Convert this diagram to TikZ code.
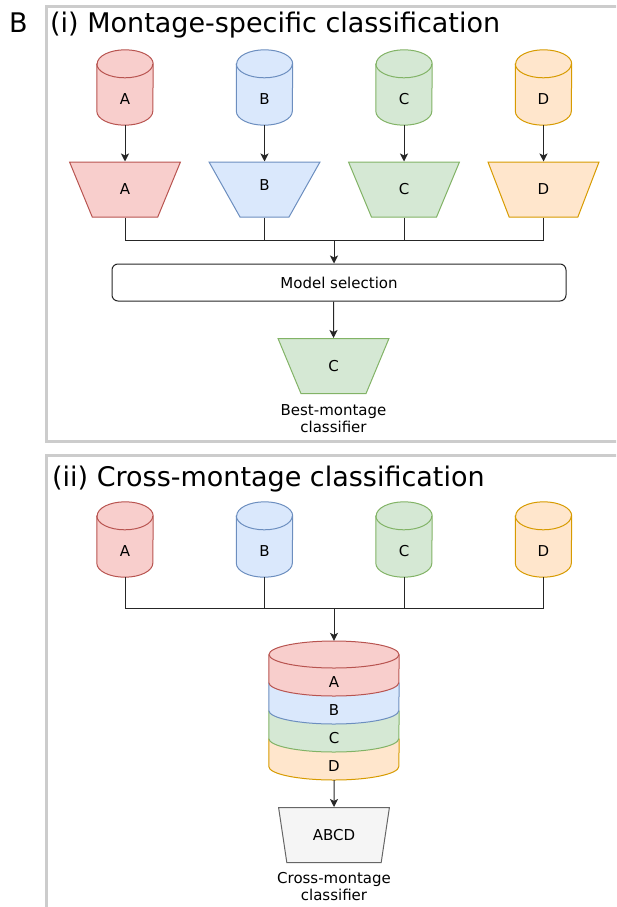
\documentclass[tikz,border=0pt]{standalone}
\usepackage{fontspec}
\setmainfont{DejaVu Sans}
\usetikzlibrary{calc,positioning,shapes.geometric,arrows.meta,backgrounds}
\definecolor{RedFill}{HTML}{F8CECC}
\definecolor{RedLine}{HTML}{B85450}
\definecolor{BlueFill}{HTML}{DAE8FC}
\definecolor{BlueLine}{HTML}{6C8EBF}
\definecolor{GreenFill}{HTML}{D5E8D4}
\definecolor{GreenLine}{HTML}{82B366}
\definecolor{OrangeFill}{HTML}{FFE6CC}
\definecolor{OrangeLine}{HTML}{D79B00}
\definecolor{GreyFill}{HTML}{F5F5F5}
\definecolor{GreyLine}{HTML}{666666}
\definecolor{FrameGrey}{HTML}{CCCCCC}
\newcommand{\DrumRx}{28pt}
\newcommand{\DrumRy}{14pt}
\newcommand{\Drum}[2]{%
\filldraw[fill=#2Fill,draw=#2Line,line width=1pt] %
($(#1.north west)+(0,-14)$) -- ($(#1.south west)+(0,14)$) %
  arc[start angle=180,end angle=360,x radius=\DrumRx,y radius=\DrumRy] -- %
($(#1.north east)+(0,-14)$) %
  arc[start angle=0,end angle=180,x radius=\DrumRx,y radius=\DrumRy] -- cycle; %
\draw[#2Line,line width=1pt] ($(#1.north west)+(0,-14)$) %
  arc[start angle=180,end angle=360,x radius=\DrumRx,y radius=\DrumRy]; %
}
\newcommand{\SlabRx}{65pt}
\newcommand{\SlabRy}{13.5pt}
\newcommand{\Slab}[2]{%
\fill[#2Fill] ($(#1.west)+(0,28)$) -- (#1.west) %
  arc[start angle=180,end angle=360,x radius=\SlabRx,y radius=\SlabRy] -- %
($(#1.east)+(0,28)$) -- cycle; %
\draw[#2Line,line width=1pt] ($(#1.west)+(0,28)$) -- (#1.west) %
  arc[start angle=180,end angle=360,x radius=\SlabRx,y radius=\SlabRy] -- %
($(#1.east)+(0,28)$); %
}

\begin{document}
\begin{tikzpicture}[x=1pt,y=1pt,>={Stealth[length=8pt,width=8pt,inset=2pt]},
    every node/.style={font=\fontsize{15}{17}\selectfont},
    heading/.style={font=\fontsize{27}{31}\selectfont,anchor=base west,inner sep=0pt},
    drum/.style={minimum width=56pt,minimum height=75pt,inner sep=0pt,text height=34pt,text depth=0pt},
    filt/.style={trapezium,trapezium left angle=108,trapezium right angle=108,trapezium stretches=true,
      minimum width=111pt,minimum height=55pt,inner sep=0pt,line width=1pt},
    slab/.style={minimum width=130pt,minimum height=28pt,inner sep=0pt},
    caption/.style={align=center,inner sep=0pt},
    wire/.style={draw=black!85,line width=1pt}]
  \useasboundingbox (0,0) rectangle (616,-907);
  \clip (0,0) rectangle (616,-907);
  \draw[FrameGrey,line width=3pt] (46.5,-7) rectangle (650,-441.5);
  \draw[FrameGrey,line width=3pt] (46.5,-455) rectangle (650,-950);
  \node[heading] (panel) at (9,-33) {B};
  \node[heading] (ttlI) at (50,-33) {(i) Montage-specific classification};
  \node[heading] (ttlII) at (52,-486) {(ii) Cross-montage classification};

  \node[drum] (cA) at (125,-87.5) {A};
  \node[drum] (cB) at (264.5,-87.5) {B};
  \node[drum] (cC) at (404,-87.5) {C};
  \node[drum] (cD) at (543.5,-87.5) {D};
  \node[filt,fill=RedFill,draw=RedLine] (tA) at (125,-189.5) {A};
  \node[filt,fill=BlueFill,draw=BlueLine,text height=11pt,text depth=9pt] (tB) at (264.5,-189.5) {B};
  \node[filt,fill=GreenFill,draw=GreenLine] (tC) at (404,-189.5) {C};
  \node[filt,fill=OrangeFill,draw=OrangeLine] (tD) at (543.5,-189.5) {D};
  \coordinate (mj) at (334,-240);
  \node[draw=black!85,line width=1pt,rounded corners=6pt,minimum width=454pt,minimum height=37pt] (ms) at (339,-282.5) {Model selection};
  \node[filt,fill=GreenFill,draw=GreenLine] (tBest) at (333.5,-366) {C};
  \node[caption,below=10pt of tBest] (bestLbl) {Best-montage\\classifier};

  \node[drum] (dA) at (125,-539.5) {A};
  \node[drum] (dB) at (264.5,-539.5) {B};
  \node[drum] (dC) at (404,-539.5) {C};
  \node[drum] (dD) at (543.5,-539.5) {D};
  \coordinate (sj) at (334,-608);
  \node[minimum width=130pt,minimum height=139pt,inner sep=0pt] (stk) at (334,-710.5) {};
  \node[slab] (sA) at (334,-682.5) {A};
  \node[slab] (sB) at (334,-710.5) {B};
  \node[slab] (sC) at (334,-738.5) {C};
  \node[slab] (sD) at (334,-766.5) {D};
  \node[filt,fill=GreyFill,draw=GreyLine] (tAll) at (334,-835) {ABCD};
  \node[caption,below=9pt of tAll] (allLbl) {Cross-montage\\classifier};

  \begin{pgfonlayer}{background}
    \Drum{cA}{Red}
    \Drum{cB}{Blue}
    \Drum{cC}{Green}
    \Drum{cD}{Orange}
    \Drum{dA}{Red}
    \Drum{dB}{Blue}
    \Drum{dC}{Green}
    \Drum{dD}{Orange}
    \Slab{sD}{Orange}
    \Slab{sC}{Green}
    \Slab{sB}{Blue}
    \Slab{sA}{Red}
    \filldraw[fill=RedFill,draw=RedLine,line width=1pt] ($(sA)+(0,28)$) ellipse[x radius=\SlabRx,y radius=\SlabRy];
  \end{pgfonlayer}

  \draw[wire,->] (cA) -- (tA);
  \draw[wire,->] (cB) -- (tB);
  \draw[wire,->] (cC) -- (tC);
  \draw[wire,->] (cD) -- (tD);
  \draw[wire] (tA.south) |- (mj);
  \draw[wire] (tB.south) |- (mj);
  \draw[wire] (tC.south) |- (mj);
  \draw[wire] (tD.south) |- (mj);
  \draw[wire,->] (mj) -- (mj |- ms.north);
  \draw[wire,->] (tBest.north |- ms.south) -- (tBest);

  \draw[wire] (dA.south) |- (sj);
  \draw[wire] (dB.south) |- (sj);
  \draw[wire] (dC.south) |- (sj);
  \draw[wire] (dD.south) |- (sj);
  \draw[wire,->] (sj) -- (stk);
  \draw[wire,->] (stk) -- (tAll);
\end{tikzpicture}
\end{document}
